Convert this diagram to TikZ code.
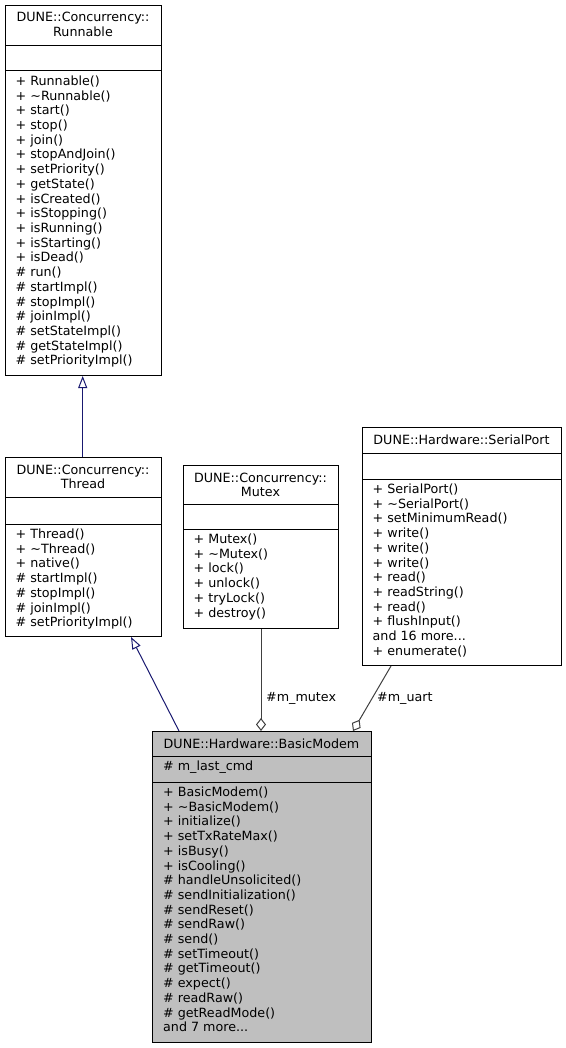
\documentclass[tikz,border=0pt]{standalone}
\usepackage{fontspec}
\setmainfont{DejaVu Sans}
\usetikzlibrary{arrows.meta,calc}
\definecolor{inhcol}{HTML}{191970}
\definecolor{usecol}{HTML}{404040}
\definecolor{focfill}{HTML}{BFBFBF}
\tikzset{
  cls/.style={draw=black, line width=1pt, inner sep=0pt, anchor=north west},
  sepline/.style={draw=black, line width=1pt},
  txt/.style={inner sep=0pt, font=\fontsize{12.7}{14.7}\selectfont},
  inh/.style={draw=inhcol, line width=1pt, -{Triangle[length=12pt,width=9pt,fill=white]}},
  use/.style={draw=usecol, line width=1pt, -{Diamond[length=13pt,width=10pt,fill=white]}},
  elabel/.style={txt, anchor=base west},
}
\newcommand\ellip{.\kern0pt.\kern0pt.}
\newcommand\members[4]{% prefix, x, first baseline, list
  \foreach \m [count=\k from 0] in {#4}
    \node[txt, anchor=base west] (#1-\k) at (#2, {-(#3)-\k*14.7}) {\m};
}
\begin{document}
\begin{tikzpicture}[x=1pt,y=1pt]
\useasboundingbox (0,0) rectangle (565,-1048);

% Runnable
\node[cls, fill=white, minimum width=156, minimum height=370] (run) at (5,-5) {};
\draw[sepline] (run.west |- 0,-46) -- (run.east |- 0,-46);
\draw[sepline] (run.west |- 0,-71) -- (run.east |- 0,-71);
\node[txt, anchor=base] (run-t1) at (83,-22) {DUNE::Concurrency::};
\node[txt, anchor=base] (run-t2) at (83,-36.5) {Runnable};
\members{run}{15.5}{85.5}{+ Runnable(),+ \textasciitilde Runnable(),+ start(),+ stop(),+ join(),+ stopAndJoin(),+ setPriority(),+ getState(),+ isCreated(),+ isStopping(),+ isRunning(),+ isStarting(),+ isDead(),\# run(),\# startImpl(),\# stopImpl(),\# joinImpl(),\# setStateImpl(),\# getStateImpl(),\# setPriorityImpl()}

% Thread
\node[cls, fill=white, minimum width=156, minimum height=179] (thr) at (5,-457) {};
\draw[sepline] (thr.west |- 0,-497) -- (thr.east |- 0,-497);
\draw[sepline] (thr.west |- 0,-524) -- (thr.east |- 0,-524);
\node[txt, anchor=base] (thr-t1) at (83,-474) {DUNE::Concurrency::};
\node[txt, anchor=base] (thr-t2) at (83,-488.5) {Thread};
\members{thr}{15.5}{538.5}{+ Thread(),+ \textasciitilde Thread(),+ native(),\# startImpl(),\# stopImpl(),\# joinImpl(),\# setPriorityImpl()}

% Mutex
\node[cls, fill=white, minimum width=155, minimum height=163] (mtx) at (183,-465) {};
\draw[sepline] (mtx.west |- 0,-504) -- (mtx.east |- 0,-504);
\draw[sepline] (mtx.west |- 0,-529) -- (mtx.east |- 0,-529);
\node[txt, anchor=base] (mtx-t1) at (260.5,-482) {DUNE::Concurrency::};
\node[txt, anchor=base] (mtx-t2) at (260.5,-496.5) {Mutex};
\members{mtx}{193.5}{543.5}{+ Mutex(),+ \textasciitilde Mutex(),+ lock(),+ unlock(),+ tryLock(),+ destroy()}

% SerialPort
\node[cls, fill=white, minimum width=199, minimum height=238] (sp) at (362,-427) {};
\draw[sepline] (sp.west |- 0,-453) -- (sp.east |- 0,-453);
\draw[sepline] (sp.west |- 0,-479) -- (sp.east |- 0,-479);
\node[txt, anchor=base] (sp-t1) at (461.5,-444) {DUNE::Hardware::SerialPort};
\members{sp}{372.5}{493.5}{+ SerialPort(),+ \textasciitilde SerialPort(),+ setMinimumRead(),+ write(),+ write(),+ write(),+ read(),+ readString(),+ read(),+ flushInput(),and 16 more\ellip,+ enumerate()}

% BasicModem
\node[cls, fill=focfill, minimum width=219, minimum height=311] (bm) at (152,-731) {};
\draw[sepline] (bm.west |- 0,-756) -- (bm.east |- 0,-756);
\draw[sepline] (bm.west |- 0,-782) -- (bm.east |- 0,-782);
\node[txt, anchor=base] (bm-t1) at (261.5,-748) {DUNE::Hardware::BasicModem};
\members{bma}{163}{770.5}{\# m\_last\_cmd}
\members{bm}{163}{796.5}{+ BasicModem(),+ \textasciitilde BasicModem(),+ initialize(),+ setTxRateMax(),+ isBusy(),+ isCooling(),\# handleUnsolicited(),\# sendInitialization(),\# sendReset(),\# sendRaw(),\# send(),\# setTimeout(),\# getTimeout(),\# expect(),\# readRaw(),\# getReadMode(),and 7 more\ellip}

% connectors
\draw[inh] ($(thr.north west)+(77.7,0)$) -- ($(run.south west)+(77.7,0)$);
\draw[inh] ($(bm.north west)+(27,0)$) -- ($(thr.south west)+(126,0)$);
\draw[use] (mtx.south) -- (mtx.south |- bm.north);
\draw[use] ($(sp.south west)+(29,0)$) -- ($(bm.north west)+(201,0)$);
\node[elabel] (lbl-mutex) at (266,-701) {\#m\_mutex};
\node[elabel] (lbl-uart) at (377,-701) {\#m\_uart};
\end{tikzpicture}
\end{document}
